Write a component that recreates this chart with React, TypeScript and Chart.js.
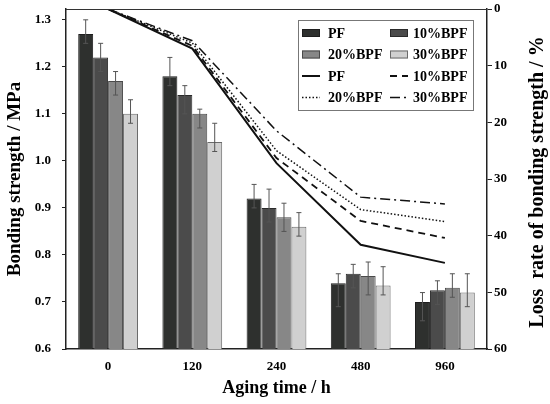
import { useEffect, useRef } from "react"
import { Chart, registerables } from "chart.js"

Chart.register(...registerables)

const agingTimes = ["0", "120", "240", "480", "960"]
const seriesNames = ["PF", "10%BPF", "20%BPF", "30%BPF"]

// bonding strength (MPa)
const pfStrength = [1.27, 1.18, 0.92, 0.74, 0.7]
const bpf10Strength = [1.22, 1.14, 0.9, 0.76, 0.725]
const bpf20Strength = [1.17, 1.1, 0.88, 0.755, 0.73]
const bpf30Strength = [1.1, 1.04, 0.86, 0.735, 0.72]

// error bar ends (MPa)
const pfUpper = [1.3, 1.22, 0.95, 0.76, 0.72]
const pfLower = [1.25, 1.16, 0.9, 0.69, 0.66]
const bpf10Upper = [1.25, 1.16, 0.94, 0.78, 0.745]
const bpf10Lower = [1.19, 1.1, 0.87, 0.73, 0.695]
const bpf20Upper = [1.19, 1.11, 0.91, 0.785, 0.76]
const bpf20Lower = [1.14, 1.07, 0.85, 0.715, 0.71]
const bpf30Upper = [1.13, 1.08, 0.89, 0.775, 0.76]
const bpf30Lower = [1.08, 1.02, 0.84, 0.715, 0.69]

// loss rate of bonding strength (%)
const pfLoss = [0, 7.0, 27.2, 41.6, 44.8]
const bpf10Loss = [0, 6.5, 26.3, 37.4, 40.4]
const bpf20Loss = [0, 6.0, 25.0, 35.4, 37.5]
const bpf30Loss = [0, 5.6, 21.5, 33.2, 34.4]

const strengthTicks = [0.6, 0.7, 0.8, 0.9, 1.0, 1.1, 1.2, 1.3]
const lossTicks = [0, 10, 20, 30, 40, 50, 60]

const barColors = ["#2e302e", "#4b4b4b", "#878787", "#d0d0d0"]
const barBorders = ["#1e1e1e", "#2a2a2a", "#4a4a4a", "#6a6a6a"]
const lineDashes = [[], [7, 5], [1.5, 2], [10, 4, 2, 4]]

const FONT = "'Liberation Serif', 'Times New Roman', serif"
const rightTitle = "Loss  rate of bonding strength / %"

const errorBars = {
  id: "errorBars",
  afterDatasetsDraw(chart: any) {
    const { ctx } = chart
    const y = chart.scales.y
    const uppers = [pfUpper, bpf10Upper, bpf20Upper, bpf30Upper]
    const lowers = [pfLower, bpf10Lower, bpf20Lower, bpf30Lower]
    ctx.save()
    ctx.strokeStyle = "#555"
    ctx.lineWidth = 1
    for (let d = 0; d < 4; d++) {
      const meta = chart.getDatasetMeta(d)
      meta.data.forEach((bar: any, i: number) => {
        const top = y.getPixelForValue(uppers[d][i])
        const bottom = y.getPixelForValue(lowers[d][i])
        ctx.beginPath()
        ctx.moveTo(bar.x, top)
        ctx.lineTo(bar.x, bottom)
        ctx.moveTo(bar.x - 2.5, top)
        ctx.lineTo(bar.x + 2.5, top)
        ctx.moveTo(bar.x - 2.5, bottom)
        ctx.lineTo(bar.x + 2.5, bottom)
        ctx.stroke()
      })
    }
    ctx.restore()
  },
}

const frameAndLegend = {
  id: "frameAndLegend",
  afterDraw(chart: any) {
    const { ctx, chartArea } = chart
    ctx.save()
    // top frame line
    ctx.strokeStyle = "#333"
    ctx.lineWidth = 1
    ctx.beginPath()
    ctx.moveTo(chartArea.left, chartArea.top + 0.5)
    ctx.lineTo(chartArea.right, chartArea.top + 0.5)
    ctx.stroke()

    // right axis title, read bottom to top
    ctx.save()
    ctx.translate(538, 182)
    ctx.rotate(-Math.PI / 2)
    ctx.font = `bold 20px ${FONT}`
    ctx.fillStyle = "#000"
    ctx.textAlign = "center"
    ctx.textBaseline = "middle"
    ctx.fillText(rightTitle, 0, 0)
    ctx.restore()

    // legend box
    const bx = chartArea.right - 189
    const by = chartArea.top + 11
    ctx.strokeStyle = "#777"
    ctx.strokeRect(bx + 0.5, by + 0.5, 175, 90)

    ctx.font = `bold 14px ${FONT}`
    ctx.textBaseline = "middle"
    ctx.fillStyle = "#000"
    chart.data.datasets.forEach((ds: any, i: number) => {
      const row = Math.floor(i / 2)
      const col = i % 2
      const cy = by + 13 + row * 21.5
      const sx = bx + 4 + col * 88
      const tx = col === 0 ? bx + 30 : bx + 115
      if (ds.type === "bar") {
        ctx.fillStyle = ds.backgroundColor
        ctx.strokeStyle = ds.borderColor
        ctx.fillRect(sx, cy - 4, 18, 8)
        ctx.strokeRect(sx + 0.5, cy - 3.5, 17, 7)
      } else {
        ctx.strokeStyle = ds.borderColor
        ctx.lineWidth = ds.borderWidth
        ctx.setLineDash(ds.borderDash)
        ctx.beginPath()
        ctx.moveTo(sx, cy)
        ctx.lineTo(sx + 18, cy)
        ctx.stroke()
        ctx.setLineDash([])
        ctx.lineWidth = 1
      }
      ctx.fillStyle = "#000"
      ctx.fillText(ds.label, tx, cy + 1)
    })
    ctx.restore()
  },
}

const noEdgePadding = (scale: any) => {
  scale.paddingTop = 0
  scale.paddingBottom = 0
}

export default function App() {
  const chartRef = useRef<HTMLCanvasElement>(null)
  const chartInstance = useRef<Chart | null>(null)

  useEffect(() => {
    document.body.style.margin = "0"
    if (!chartRef.current) return
    if (chartInstance.current) chartInstance.current.destroy()
    const ctx = chartRef.current.getContext("2d")
    if (!ctx) return

    const strengths = [pfStrength, bpf10Strength, bpf20Strength, bpf30Strength]
    const losses = [pfLoss, bpf10Loss, bpf20Loss, bpf30Loss]

    const barSets = seriesNames.map((name, i) => ({
      type: "bar" as const,
      label: name,
      data: strengths[i],
      backgroundColor: barColors[i],
      borderColor: barBorders[i],
      borderWidth: 1,
      yAxisID: "y",
      order: 1,
      barPercentage: 1,
      categoryPercentage: 0.71,
    }))
    const lineSets = seriesNames.map((name, i) => ({
      type: "line" as const,
      label: name,
      data: losses[i],
      borderColor: "#111",
      borderWidth: i === 0 ? 2 : i === 1 ? 1.8 : 1.5,
      borderDash: lineDashes[i],
      pointRadius: 0,
      fill: false,
      tension: 0,
      yAxisID: "y2",
      order: 0,
    }))

    chartInstance.current = new Chart(ctx, {
      data: {
        labels: agingTimes,
        datasets: [...barSets, ...lineSets] as any,
      },
      options: {
        responsive: true,
        maintainAspectRatio: false,
        animation: false,
        layout: { padding: { top: 9, left: 0, right: 0, bottom: 0 } },
        plugins: {
          legend: { display: false },
          tooltip: { enabled: false },
        },
        scales: {
          x: {
            type: "category",
            offset: true,
            grid: { display: false, drawTicks: false },
            border: { display: true, color: "#222", width: 1.5 },
            ticks: { color: "#000", padding: 10, font: { family: FONT, size: 13, weight: "bold" } },
            title: {
              display: true,
              text: "Aging time / h",
              color: "#000",
              font: { family: FONT, size: 18, weight: "bold" },
              padding: { top: 0, bottom: 5 },
            },
            afterFit: (scale: any) => {
              scale.height = 55
            },
          },
          y: {
            type: "linear",
            position: "left",
            min: 0.6,
            max: 1.323,
            afterBuildTicks: (scale: any) => {
              scale.ticks = strengthTicks.map((v) => ({ value: v }))
            },
            grid: { drawOnChartArea: false, drawTicks: true, tickLength: 4, color: "#222" },
            border: { display: true, color: "#222", width: 1.5 },
            ticks: {
              color: "#000",
              padding: 11,
              font: { family: FONT, size: 13, weight: "bold" },
              callback: (v: any) => Number(v).toFixed(1),
            },
            title: {
              display: true,
              text: "Bonding strength / MPa",
              color: "#000",
              font: { family: FONT, size: 19, weight: "bold" },
              padding: { top: 4, bottom: 0 },
            },
            afterFit: (scale: any) => {
              scale.width = 66
              noEdgePadding(scale)
            },
          },
          y2: {
            type: "linear",
            position: "right",
            reverse: true,
            min: 0,
            max: 60,
            afterBuildTicks: (scale: any) => {
              scale.ticks = lossTicks.map((v) => ({ value: v }))
            },
            grid: { drawOnChartArea: false, drawTicks: true, tickLength: 5, color: "#222" },
            border: { display: true, color: "#222", width: 1.5 },
            ticks: { color: "#000", padding: 2, font: { family: FONT, size: 13, weight: "bold" } },
            title: { display: false },
            afterFit: (scale: any) => {
              scale.width = 63
              noEdgePadding(scale)
            },
          },
        },
      },
      plugins: [errorBars, frameAndLegend],
    })

    return () => {
      if (chartInstance.current) {
        chartInstance.current.destroy()
        chartInstance.current = null
      }
    }
  }, [])

  return (
    <div style={{ width: 550, height: 404, position: "relative" }}>
      <canvas ref={chartRef} />
    </div>
  )
}
